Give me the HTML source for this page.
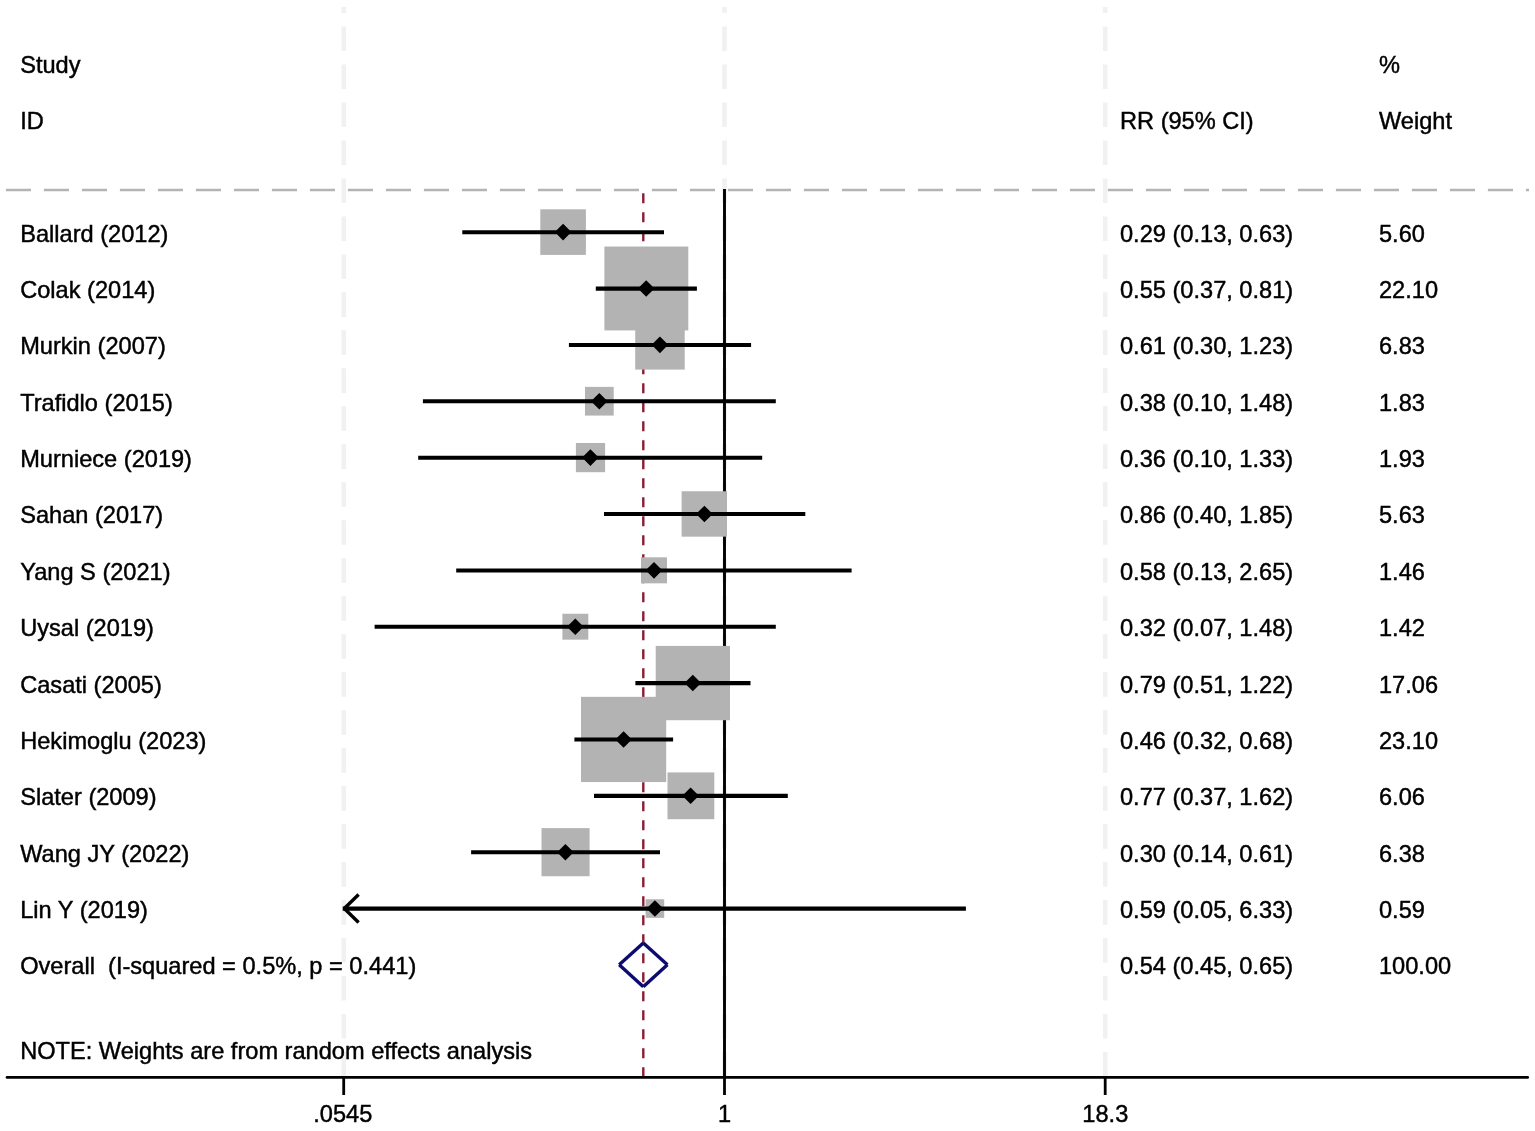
<!DOCTYPE html>
<html><head><meta charset="utf-8"><title>Forest plot</title>
<style>html,body{margin:0;padding:0;background:#fff;}svg{display:block;}</style>
</head><body>
<svg width="1535" height="1131" viewBox="0 0 1535 1131">
<rect x="0" y="0" width="1535" height="1131" fill="#ffffff"/>
<line x1="343.8" y1="7" x2="343.8" y2="1076" stroke="#f1f1f1" stroke-width="4.6" stroke-dasharray="24.6 13.38" stroke-dashoffset="18.48"/>
<line x1="724.5" y1="7" x2="724.5" y2="1076" stroke="#f1f1f1" stroke-width="4.6" stroke-dasharray="24.6 13.38" stroke-dashoffset="18.48"/>
<line x1="1105.2" y1="7" x2="1105.2" y2="1076" stroke="#f1f1f1" stroke-width="4.6" stroke-dasharray="24.6 13.38" stroke-dashoffset="18.48"/>
<line x1="5.9" y1="190" x2="1529" y2="190" stroke="#b4b4b4" stroke-width="2.3" stroke-dasharray="25.1 12.9"/>
<line x1="724.5" y1="189" x2="724.5" y2="1077" stroke="#000" stroke-width="2.9"/>
<line x1="643.3" y1="193.3" x2="643.3" y2="1077" stroke="#8a1d33" stroke-width="2.4" stroke-dasharray="10 9"/>
<rect x="540.3" y="209.31" width="45.60" height="45.60" fill="#b3b3b3"/>
<rect x="604.4" y="246.53" width="83.90" height="83.90" fill="#b3b3b3"/>
<rect x="635.2" y="320.10" width="49.50" height="49.50" fill="#b3b3b3"/>
<rect x="585.0" y="386.87" width="28.70" height="28.70" fill="#b3b3b3"/>
<rect x="575.9" y="442.99" width="29.20" height="29.20" fill="#b3b3b3"/>
<rect x="681.6" y="491.26" width="45.40" height="45.40" fill="#b3b3b3"/>
<rect x="641.0" y="557.33" width="26.00" height="26.00" fill="#b3b3b3"/>
<rect x="562.4" y="613.75" width="25.90" height="25.90" fill="#b3b3b3"/>
<rect x="655.7" y="645.92" width="74.30" height="74.30" fill="#b3b3b3"/>
<rect x="581.0" y="696.84" width="85.20" height="85.20" fill="#b3b3b3"/>
<rect x="667.5" y="772.41" width="46.80" height="46.80" fill="#b3b3b3"/>
<rect x="541.5" y="828.13" width="48.10" height="48.10" fill="#b3b3b3"/>
<rect x="645.6" y="899.25" width="18.60" height="18.60" fill="#b3b3b3"/>
<line x1="462.3" y1="232.21" x2="664.0" y2="232.21" stroke="#000" stroke-width="4.1"/>
<line x1="595.8" y1="288.58" x2="696.9" y2="288.58" stroke="#000" stroke-width="4.1"/>
<line x1="568.9" y1="344.95" x2="751.1" y2="344.95" stroke="#000" stroke-width="4.1"/>
<line x1="422.9" y1="401.32" x2="775.8" y2="401.32" stroke="#000" stroke-width="4.1"/>
<line x1="418.2" y1="457.69" x2="762.2" y2="457.69" stroke="#000" stroke-width="4.1"/>
<line x1="604.0" y1="514.06" x2="805.3" y2="514.06" stroke="#000" stroke-width="4.1"/>
<line x1="456.2" y1="570.43" x2="851.6" y2="570.43" stroke="#000" stroke-width="4.1"/>
<line x1="374.6" y1="626.80" x2="775.8" y2="626.80" stroke="#000" stroke-width="4.1"/>
<line x1="635.4" y1="683.17" x2="750.5" y2="683.17" stroke="#000" stroke-width="4.1"/>
<line x1="574.4" y1="739.54" x2="673.1" y2="739.54" stroke="#000" stroke-width="4.1"/>
<line x1="594.0" y1="795.91" x2="787.8" y2="795.91" stroke="#000" stroke-width="4.1"/>
<line x1="471.1" y1="852.28" x2="660.0" y2="852.28" stroke="#000" stroke-width="4.1"/>
<line x1="342.7" y1="908.65" x2="965.9" y2="908.65" stroke="#000" stroke-width="4.1"/>
<polygon points="563.1,223.81 571.4,232.11 563.1,240.41 554.8000000000001,232.11" fill="#000"/>
<polygon points="646.2,280.18 654.5,288.48 646.2,296.78 637.9000000000001,288.48" fill="#000"/>
<polygon points="659.9,336.55 668.1999999999999,344.85 659.9,353.15 651.6,344.85" fill="#000"/>
<polygon points="599.3,392.92 607.5999999999999,401.22 599.3,409.52 591.0,401.22" fill="#000"/>
<polygon points="590.4,449.29 598.6999999999999,457.59 590.4,465.89 582.1,457.59" fill="#000"/>
<polygon points="704.4,505.66 712.6999999999999,513.96 704.4,522.26 696.1,513.96" fill="#000"/>
<polygon points="654.0,562.03 662.3,570.33 654.0,578.63 645.7,570.33" fill="#000"/>
<polygon points="575.3,618.40 583.5999999999999,626.70 575.3,635.00 567.0,626.70" fill="#000"/>
<polygon points="692.8,674.77 701.0999999999999,683.07 692.8,691.37 684.5,683.07" fill="#000"/>
<polygon points="623.6,731.14 631.9,739.44 623.6,747.74 615.3000000000001,739.44" fill="#000"/>
<polygon points="690.6,787.51 698.9,795.81 690.6,804.11 682.3000000000001,795.81" fill="#000"/>
<polygon points="565.4,843.88 573.6999999999999,852.18 565.4,860.48 557.1,852.18" fill="#000"/>
<polygon points="654.9,900.25 663.1999999999999,908.55 654.9,916.85 646.6,908.55" fill="#000"/>
<line x1="344.3" y1="908.55" x2="358.6" y2="894.55" stroke="#000" stroke-width="3.4"/>
<line x1="344.3" y1="908.55" x2="358.6" y2="922.55" stroke="#000" stroke-width="3.4"/>
<line x1="643.3" y1="942.9" x2="667.4" y2="964.8" stroke="#0c0c70" stroke-width="3.4"/>
<line x1="667.4" y1="964.8" x2="643.3" y2="986.7" stroke="#0c0c70" stroke-width="3.4"/>
<line x1="643.3" y1="986.7" x2="619.2" y2="964.8" stroke="#0c0c70" stroke-width="3.4"/>
<line x1="619.2" y1="964.8" x2="643.3" y2="942.9" stroke="#0c0c70" stroke-width="3.4"/>
<line x1="7" y1="1077.4" x2="1527.7" y2="1077.4" stroke="#000" stroke-width="2.6" stroke-linecap="round"/>
<line x1="343.7" y1="1077" x2="343.7" y2="1095" stroke="#000" stroke-width="2.8"/>
<line x1="724.5" y1="1077" x2="724.5" y2="1095" stroke="#000" stroke-width="2.8"/>
<line x1="1105.2" y1="1077" x2="1105.2" y2="1095" stroke="#000" stroke-width="2.8"/>
<g font-family="Liberation Sans, Arial, Helvetica, sans-serif" font-size="23.6" fill="#000" stroke="#000" stroke-width="0.45" transform="translate(0,0.5)">
<text x="20.2" y="72.00" xml:space="preserve">Study</text>
<text x="20.2" y="128.37" xml:space="preserve">ID</text>
<text x="1120.0" y="128.37" xml:space="preserve">RR (95% CI)</text>
<text x="1379.0" y="72.00" xml:space="preserve">%</text>
<text x="1379.0" y="128.37" xml:space="preserve">Weight</text>
<text x="20.2" y="241.11" xml:space="preserve">Ballard (2012)</text>
<text x="1120.0" y="241.11" xml:space="preserve">0.29 (0.13, 0.63)</text>
<text x="1379.0" y="241.11" xml:space="preserve">5.60</text>
<text x="20.2" y="297.48" xml:space="preserve">Colak (2014)</text>
<text x="1120.0" y="297.48" xml:space="preserve">0.55 (0.37, 0.81)</text>
<text x="1379.0" y="297.48" xml:space="preserve">22.10</text>
<text x="20.2" y="353.85" xml:space="preserve">Murkin (2007)</text>
<text x="1120.0" y="353.85" xml:space="preserve">0.61 (0.30, 1.23)</text>
<text x="1379.0" y="353.85" xml:space="preserve">6.83</text>
<text x="20.2" y="410.22" xml:space="preserve">Trafidlo (2015)</text>
<text x="1120.0" y="410.22" xml:space="preserve">0.38 (0.10, 1.48)</text>
<text x="1379.0" y="410.22" xml:space="preserve">1.83</text>
<text x="20.2" y="466.59" xml:space="preserve">Murniece (2019)</text>
<text x="1120.0" y="466.59" xml:space="preserve">0.36 (0.10, 1.33)</text>
<text x="1379.0" y="466.59" xml:space="preserve">1.93</text>
<text x="20.2" y="522.96" xml:space="preserve">Sahan (2017)</text>
<text x="1120.0" y="522.96" xml:space="preserve">0.86 (0.40, 1.85)</text>
<text x="1379.0" y="522.96" xml:space="preserve">5.63</text>
<text x="20.2" y="579.33" xml:space="preserve">Yang S (2021)</text>
<text x="1120.0" y="579.33" xml:space="preserve">0.58 (0.13, 2.65)</text>
<text x="1379.0" y="579.33" xml:space="preserve">1.46</text>
<text x="20.2" y="635.70" xml:space="preserve">Uysal (2019)</text>
<text x="1120.0" y="635.70" xml:space="preserve">0.32 (0.07, 1.48)</text>
<text x="1379.0" y="635.70" xml:space="preserve">1.42</text>
<text x="20.2" y="692.07" xml:space="preserve">Casati (2005)</text>
<text x="1120.0" y="692.07" xml:space="preserve">0.79 (0.51, 1.22)</text>
<text x="1379.0" y="692.07" xml:space="preserve">17.06</text>
<text x="20.2" y="748.44" xml:space="preserve">Hekimoglu (2023)</text>
<text x="1120.0" y="748.44" xml:space="preserve">0.46 (0.32, 0.68)</text>
<text x="1379.0" y="748.44" xml:space="preserve">23.10</text>
<text x="20.2" y="804.81" xml:space="preserve">Slater (2009)</text>
<text x="1120.0" y="804.81" xml:space="preserve">0.77 (0.37, 1.62)</text>
<text x="1379.0" y="804.81" xml:space="preserve">6.06</text>
<text x="20.2" y="861.18" xml:space="preserve">Wang JY (2022)</text>
<text x="1120.0" y="861.18" xml:space="preserve">0.30 (0.14, 0.61)</text>
<text x="1379.0" y="861.18" xml:space="preserve">6.38</text>
<text x="20.2" y="917.55" xml:space="preserve">Lin Y (2019)</text>
<text x="1120.0" y="917.55" xml:space="preserve">0.59 (0.05, 6.33)</text>
<text x="1379.0" y="917.55" xml:space="preserve">0.59</text>
<text x="20.2" y="973.92" xml:space="preserve">Overall  (I-squared = 0.5%, p = 0.441)</text>
<text x="1120.0" y="973.92" xml:space="preserve">0.54 (0.45, 0.65)</text>
<text x="1379.0" y="973.92" xml:space="preserve">100.00</text>
<text x="20.2" y="1058.47" xml:space="preserve">NOTE: Weights are from random effects analysis</text>
<text x="342.8" y="1121.70" text-anchor="middle" xml:space="preserve">.0545</text>
<text x="724.5" y="1121.70" text-anchor="middle" xml:space="preserve">1</text>
<text x="1105.3" y="1121.70" text-anchor="middle" xml:space="preserve">18.3</text>
</g>
</svg>
</body></html>
